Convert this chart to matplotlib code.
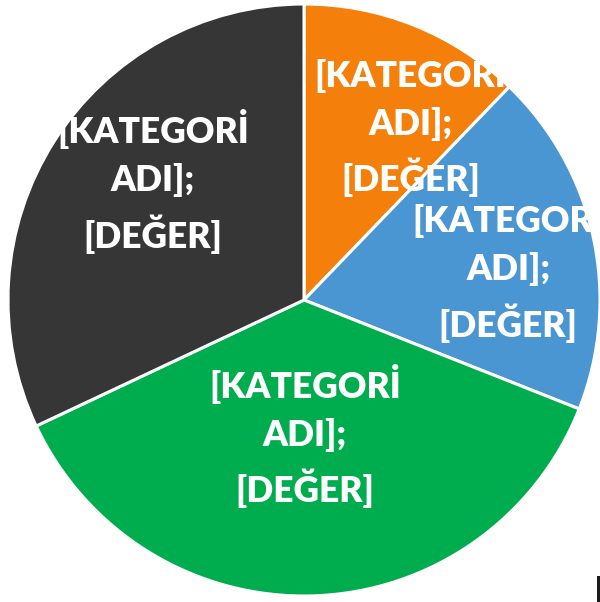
import matplotlib.pyplot as plt
from matplotlib.patches import Circle, Rectangle

# slice data (clockwise from 12 o'clock)
categories = ['Turuncu', 'Mavi', 'Yeşil', 'Koyu']
values = [12.2, 18.8, 37.0, 32.0]
colors = ['#F47F0B', '#4A96D2', '#00AD4E', '#363636']
label_text = '[KATEGORİ\nADI];\n[DEĞER]'

# label centres in pie units (Excel "best fit" spots)
label_pos = [(0.36, 0.59), (0.69, 0.10), (0.003, -0.46), (-0.51, 0.40)]

fig = plt.figure(figsize=(6, 6.02), dpi=100)
ax = fig.add_axes([8 / 600, 6 / 602, 592 / 600, 592 / 602])

wedges, _ = ax.pie(values, colors=colors, startangle=90, counterclock=False,
                   radius=1.0, wedgeprops=dict(edgecolor='white', linewidth=2.2))
ax.set_xlim(-1, 1)
ax.set_ylim(-1, 1)
ax.axis('off')

# text gets clipped by the pie outline, like in the original
clip = Circle((0, 0), 1.0, transform=ax.transData)
for (x, y) in label_pos:
    t = ax.text(x, y, label_text, ha='center', va='center', color='white',
                fontsize=25.5, fontweight='heavy', family='Lato',
                linespacing=1.5, multialignment='center')
    t.set_clip_path(clip)

# stray mark at bottom-right corner
fig.patches.append(Rectangle((597 / 600, 0), 3 / 600, 26 / 602, transform=fig.transFigure,
                             facecolor='#1a1a1a', edgecolor='none'))

fig.savefig('out.png', dpi=100)
